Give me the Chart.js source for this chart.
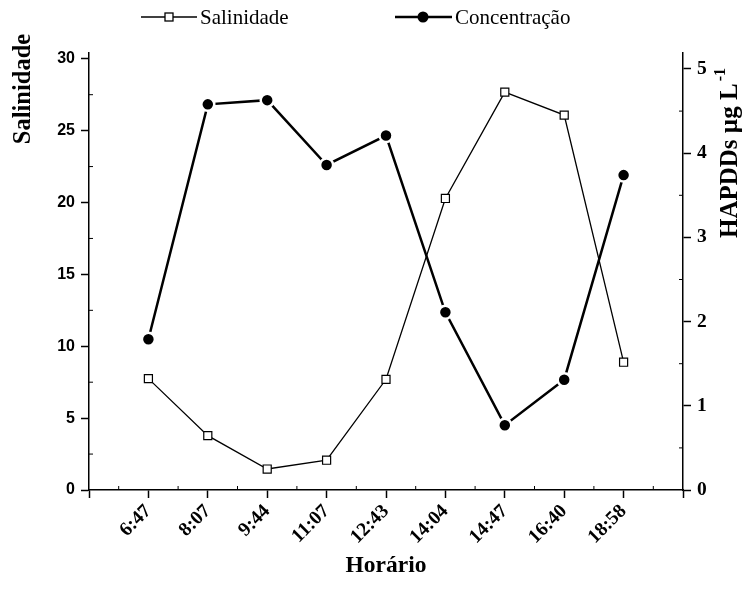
<!DOCTYPE html>
<html>
<head>
<meta charset="utf-8">
<script src="https://cdn.jsdelivr.net/npm/chart.js@4.4.1/dist/chart.umd.min.js"></script>
<style>
  body { margin: 0; background: #fff; }
  #wrap { width: 753px; height: 593px; position: relative; }
</style>
</head>
<body>
<div id="wrap"><canvas id="salChart"></canvas></div>
<script>
// values
const horarios = ['6:47', '8:07', '9:44', '11:07', '12:43', '14:04', '14:47', '16:40', '18:58'];
const salinidade = [7.75, 3.78, 1.46, 2.07, 7.7, 20.28, 27.68, 26.08, 8.89];
const concentracao = [1.79, 4.58, 4.63, 3.86, 4.21, 2.11, 0.77, 1.31, 3.74];
const salTicks = [0, 5, 10, 15, 20, 25, 30];
const concTicks = [0, 1, 2, 3, 4, 5];

const serif = '"Liberation Serif", "Times New Roman", serif';
const sans = '"Liberation Sans", Arial, sans-serif';

// minor ticks, axis titles and legend (Origin style)
const decor = {
    id: 'decor',
    afterDraw(chart) {
        const ctx = chart.ctx;
        const x = chart.scales.x, yL = chart.scales.ySal, yR = chart.scales.yConc;
        ctx.save();
        ctx.strokeStyle = '#000';
        ctx.lineWidth = 1;
        ctx.beginPath();
        for (let i = -1; i < horarios.length; i++) {
            const px = x.getPixelForValue(i + 0.5);
            ctx.moveTo(px, x.top); ctx.lineTo(px, x.top - 4);
        }
        for (let i = 0; i < salTicks.length; i++) {
            const py = yL.getPixelForValue(salTicks[i] + 2.5);
            if (py < yL.top) continue;
            ctx.moveTo(yL.right, py); ctx.lineTo(yL.right + 4, py);
        }
        for (let i = 0; i < concTicks.length; i++) {
            const py = yR.getPixelForValue(concTicks[i] + 0.5);
            if (py < yR.top) continue;
            ctx.moveTo(yR.left, py); ctx.lineTo(yR.left - 4, py);
        }
        ctx.stroke();

        ctx.fillStyle = '#000';
        ctx.textBaseline = 'middle';
        ctx.textAlign = 'center';
        ctx.font = 'bold 23.5px ' + serif;
        ctx.fillText('Horário', (x.left + x.right) / 2, 566);

        ctx.save();
        ctx.translate(24, 89);
        ctx.rotate(-Math.PI / 2);
        ctx.font = 'bold 24.5px ' + serif;
        ctx.fillText('Salinidade', 0, 0);
        ctx.restore();

        ctx.save();
        ctx.translate(731, 153);
        ctx.rotate(-Math.PI / 2);
        ctx.textAlign = 'left';
        const main = 'HAPDDs µg L';
        ctx.font = 'bold 25px ' + serif;
        const w1 = ctx.measureText(main).width;
        ctx.font = 'bold 16px ' + serif;
        const w2 = ctx.measureText('-1').width;
        const start = -(w1 + w2 + 2) / 2;
        ctx.font = 'bold 25px ' + serif;
        ctx.fillText(main, start, 0);
        ctx.font = 'bold 16px ' + serif;
        ctx.fillText('-1', start + w1 + 2, -10);
        ctx.restore();

        // legend
        const ly = 17;
        ctx.font = '21px ' + serif;
        ctx.textAlign = 'left';
        ctx.lineWidth = 1.3;
        ctx.beginPath(); ctx.moveTo(141, ly); ctx.lineTo(197, ly); ctx.stroke();
        ctx.fillStyle = '#fff';
        ctx.fillRect(165, ly - 4, 8, 8);
        ctx.strokeRect(165, ly - 4, 8, 8);
        ctx.fillStyle = '#000';
        ctx.fillText(chart.data.datasets[0].label, 200, ly + 1);

        ctx.lineWidth = 2.5;
        ctx.beginPath(); ctx.moveTo(395, ly); ctx.lineTo(452, ly); ctx.stroke();
        ctx.beginPath(); ctx.arc(423, ly, 5.5, 0, Math.PI * 2); ctx.fill();
        ctx.fillText(chart.data.datasets[1].label, 455, ly + 1);
        ctx.restore();
    }
};

const ctx = document.getElementById('salChart').getContext('2d');
const salChart = new Chart(ctx, {
    type: 'line',
    data: {
        datasets: [
            {
                label: 'Salinidade',
                data: salinidade.map((v, i) => ({ x: i, y: v })),
                yAxisID: 'ySal',
                borderColor: '#000',
                borderWidth: 1.3,
                pointStyle: 'rect',
                pointRadius: 5.7,
                pointBorderWidth: 1.2,
                pointBackgroundColor: '#fff',
                pointBorderColor: '#000',
                tension: 0
            },
            {
                label: 'Concentração',
                data: concentracao.map((v, i) => ({ x: i, y: v })),
                yAxisID: 'yConc',
                borderColor: '#000',
                borderWidth: 2.5,
                pointStyle: 'circle',
                pointRadius: 6.5,
                pointBorderWidth: 2.5,
                pointBackgroundColor: '#000',
                pointBorderColor: '#fff',
                tension: 0
            }
        ]
    },
    options: {
        responsive: true,
        maintainAspectRatio: false,
        animation: false,
        layout: { padding: { top: 53, left: 0, right: 0, bottom: 0 } },
        plugins: { legend: { display: false }, tooltip: { enabled: false } },
        scales: {
            x: {
                type: 'linear',
                min: -1,
                max: horarios.length,
                afterFit: (s) => { s.height = 103; },
                afterBuildTicks: (s) => { s.ticks = []; for (let i = -1; i <= horarios.length; i++) s.ticks.push({ value: i }); },
                grid: { drawOnChartArea: false, drawTicks: true, tickLength: 8, tickColor: '#000', tickWidth: 1.5 },
                border: { display: true, color: '#000', width: 1.5 },
                ticks: {
                    color: '#000',
                    font: { family: serif, size: 19.5, weight: 'bold' },
                    minRotation: 45,
                    maxRotation: 45,
                    padding: 2,
                    autoSkip: false,
                    callback: (v) => horarios[v] ?? ''
                }
            },
            ySal: {
                type: 'linear',
                position: 'left',
                min: 0,
                max: 30.4,
                afterFit: (s) => { s.width = 89; },
                afterBuildTicks: (s) => { s.ticks = salTicks.map(v => ({ value: v })); },
                grid: { drawOnChartArea: false, drawTicks: true, tickLength: 8, tickColor: '#000', tickWidth: 1.5 },
                border: { display: true, color: '#000', width: 1.5 },
                ticks: { color: '#000', font: { family: sans, size: 16, weight: 'bold' }, padding: 6 }
            },
            yConc: {
                type: 'linear',
                position: 'right',
                min: 0,
                max: 5.19,
                afterFit: (s) => { s.width = 70; },
                afterBuildTicks: (s) => { s.ticks = concTicks.map(v => ({ value: v })); },
                grid: { drawOnChartArea: false, drawTicks: true, tickLength: 8, tickColor: '#000', tickWidth: 1.5 },
                border: { display: true, color: '#000', width: 1.5 },
                ticks: { color: '#000', font: { family: serif, size: 19.5, weight: 'bold' }, padding: 6 }
            }
        }
    },
    plugins: [decor]
});
</script>
</body>
</html>
